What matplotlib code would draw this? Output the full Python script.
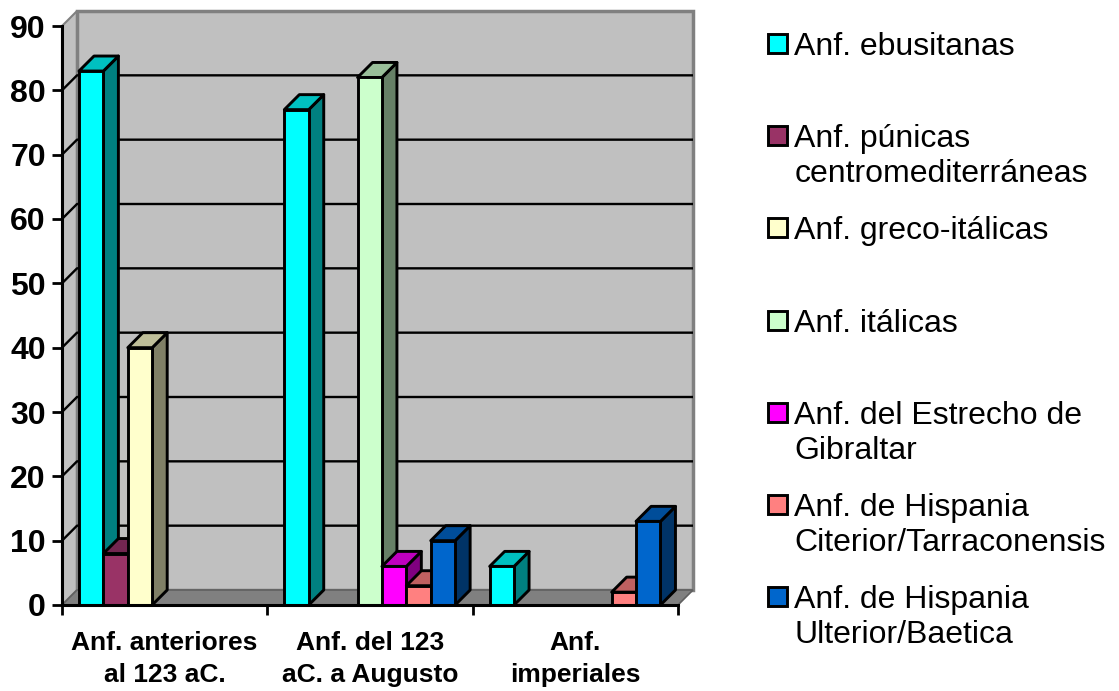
import matplotlib
matplotlib.use("Agg")
import matplotlib.pyplot as plt
from matplotlib.patches import Rectangle

plt.rcParams['font.family'] = ['Liberation Sans', 'DejaVu Sans']

# Data
groups = ["Anf. anteriores\nal 123 aC.", "Anf. del 123\naC. a Augusto", "Anf.\nimperiales"]
series_names = [
    "Anf. ebusitanas",
    "Anf. púnicas\ncentromediterráneas",
    "Anf. greco-itálicas",
    "Anf. itálicas",
    "Anf. del Estrecho de\nGibraltar",
    "Anf. de Hispania\nCiterior/Tarraconensis",
    "Anf. de Hispania\nUlterior/Baetica",
]
ebusitanas = [83, 77, 6]
punicas = [8, 0, 0]
greco = [40, 0, 0]
italicas = [0, 82, 0]
estrecho = [0, 6, 0]
citerior = [0, 3, 2]
ulterior = [0, 10, 13]
all_series = [ebusitanas, punicas, greco, italicas, estrecho, citerior, ulterior]

front_colors = ["#00FFFF", "#993366", "#FFFFCC", "#CCFFCC", "#FF00FF", "#FF8080", "#0066CC"]
top_colors = ["#00C0C0", "#732650", "#BFBF99", "#99BF99", "#BF00BF", "#BF6060", "#004D99"]
side_colors = ["#008080", "#4D1933", "#808066", "#668066", "#800080", "#804040", "#003366"]
legend_y = [43, 135, 227, 320, 412, 504, 596]

W, H = 1119, 691
fig = plt.figure(figsize=(W / 100, H / 100), dpi=100)
ax = fig.add_axes([62 / W, (H - 605) / H, 616 / W, 579 / H])
ax.set_xlim(0, 3)
ax.set_ylim(0, 90)
ax.set_facecolor("none")

# 3D depth in data units (15 px right, 15 px up)
dx = 15 / (616 / 3)
dy = 15 / (579 / 90)

# walls and floor
ax.fill([0, dx, dx, 0], [0, dy, 90 + dy, 90], color="#C0C0C0", ec="#808080", lw=1.5, clip_on=False, zorder=0.1)
ax.fill([dx, 3 + dx, 3 + dx, dx], [dy, dy, 90 + dy, 90 + dy], fc="#C0C0C0", ec="#808080", lw=2.5, clip_on=False, zorder=0.2)
ax.fill([0, dx, 3 + dx, 3], [0, dy, dy, 0], fc="#808080", ec="#606060", lw=1.2, clip_on=False, zorder=0.3)

# gridlines
for v in range(10, 90, 10):
    ax.plot([0, dx, 3 + dx], [v, v + dy, v + dy], color="black", lw=1.7, clip_on=False, zorder=0.4, solid_capstyle="butt")

# bars, drawn left to right so each one covers the side of the previous one
bar_w = 24.4 / (616 / 3)
start = 17 / (616 / 3)
lw = 2.1
z = 1
for g in range(len(groups)):
    for s, vals in enumerate(all_series):
        v = vals[g]
        if v == 0:
            continue
        x0 = g + start + s * bar_w
        x1 = x0 + bar_w
        ax.fill([x1, x1 + dx, x1 + dx, x1], [0, dy, v + dy, v], fc=side_colors[s], ec="black", lw=lw,
                clip_on=False, zorder=z, joinstyle="round")
        ax.fill([x0, x0 + dx, x1 + dx, x1], [v, v + dy, v + dy, v], fc=top_colors[s], ec="black", lw=lw,
                clip_on=False, zorder=z + 0.1, joinstyle="round")
        ax.bar(x0, v, bar_w, align="edge", color=front_colors[s], edgecolor="black", linewidth=lw,
               clip_on=False, zorder=z + 0.2)
        z += 1

# axes
for name in ["top", "right"]:
    ax.spines[name].set_visible(False)
for name in ["left", "bottom"]:
    ax.spines[name].set_linewidth(2.2)
    ax.spines[name].set_zorder(50)
ax.set_yticks(range(0, 100, 10))
ax.tick_params(axis="y", length=7.2, width=2, labelsize=23, pad=4.5)
for t in ax.get_yticklabels():
    t.set_fontweight("bold")
ax.set_xticks([0, 1, 2, 3])
ax.set_xticklabels([])
ax.tick_params(axis="x", which="major", length=7.2, width=2)
ax.set_xticks([0.5, 1.5, 2.5], minor=True)
ax.set_xticklabels(groups, minor=True, fontsize=19, fontweight="bold", linespacing=1.42)
ax.tick_params(axis="x", which="minor", length=0, pad=18.5)

# legend
for name, c, y in zip(series_names, front_colors, legend_y):
    fig.add_artist(Rectangle((767.5 / W, 1 - (y + 10) / H), 19 / W, 19 / H, transform=fig.transFigure,
                             fc=c, ec="black", lw=2.1))
    fig.text(794.5 / W, 1 - (y - 11) / H, name, fontsize=23, va="top", ha="left", linespacing=1.23)

fig.savefig("out.png", dpi=100)
